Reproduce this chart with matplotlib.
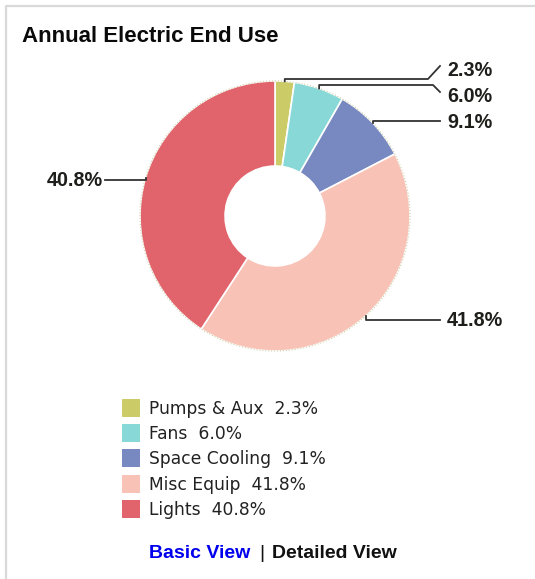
import matplotlib
matplotlib.use('Agg')
import matplotlib.pyplot as plt
from matplotlib.patches import Rectangle, Circle
import numpy as np

# data
categories = ['Pumps & Aux', 'Fans', 'Space Cooling', 'Misc Equip', 'Lights']
shares = [2.3, 6.0, 9.1, 41.8, 40.8]
colors = ['#CBCB68', '#88D8D8', '#7888C0', '#F8C2B6', '#E1636B']

# label layout (pixels, y down): text y, elbow y, knee x, end point of leader
label_y = [70, 96, 122, 320, 180]
elbow_y = [79, 85, 121, 320, 180]
knee_x = [428, 433, 440, 440, 105]
end_pt = [(440, 66), (440, 92), (440, 121), (440, 320), (105, 180)]

W, H = 535, 579
fig = plt.figure(figsize=(W / 100, H / 100), dpi=100)
ax = fig.add_axes([0, 0, 1, 1])

cx, cy, R = 275, 216, 135
wedges, _ = ax.pie(shares, colors=colors, startangle=-90, counterclock=True,
                   center=(cx, cy), radius=R,
                   wedgeprops=dict(width=R * 0.63, edgecolor='white', linewidth=1.2))
ax.add_patch(Circle((cx, cy), R, fill=False, ls=':', lw=0.8, ec='#cfcfa8'))
ax.set_xlim(0, W)
ax.set_ylim(H, 0)
ax.set_aspect('auto')
ax.axis('off')

# panel border (right and bottom run off the picture)
ax.plot([6, 6, W + 5], [H + 5, 6, 6], color='#d9d9d9', lw=1.6, solid_capstyle='butt')

ax.text(22, 36, 'Annual Electric End Use', fontsize=16, fontweight='bold',
        family='Liberation Sans', color='#0a0a0a', va='center', ha='left')

# leader lines and percent labels
for w, v, ty, ey, kx, ep in zip(wedges, shares, label_y, elbow_y, knee_x, end_pt):
    mid = np.deg2rad((w.theta1 + w.theta2) / 2)
    px, py = cx + R * np.cos(mid), cy + R * np.sin(mid)
    xs = [px, px, kx, ep[0]]
    ys = [py, ey, ey, ep[1]]
    ax.plot(xs, ys, color='#333333', lw=1.3)
    if ep[0] < cx:
        ax.text(ep[0] - 2, ty, f'{v:.1f}%', ha='right', va='center', fontsize=14.2,
                fontweight='bold', family='Liberation Sans', color='#1e1e1a')
    else:
        ax.text(ep[0] + 7, ty, f'{v:.1f}%', ha='left', va='center', fontsize=14.2,
                fontweight='bold', family='Liberation Sans', color='#1e1e1a')

# legend
for i, (name, v, c) in enumerate(zip(categories, shares, colors)):
    y = 408 + i * 25.2
    ax.add_patch(Rectangle((122, y - 9), 18, 18, fc=c, ec='none'))
    ax.text(149, y + 1, f'{name}  {v:.1f}%', fontsize=12.3, family='DejaVu Sans',
            color='#222222', va='center', ha='left')

ax.text(149, 553, 'Basic View', fontsize=14, fontweight='bold', family='Liberation Sans',
        color='#0000EE', va='center', ha='left')
ax.text(259, 553, '|', fontsize=14, family='Liberation Sans', color='#111111',
        va='center', ha='left')
ax.text(272, 553, 'Detailed View', fontsize=14, fontweight='bold', family='Liberation Sans',
        color='#111111', va='center', ha='left')

fig.savefig('out.png', dpi=100)
